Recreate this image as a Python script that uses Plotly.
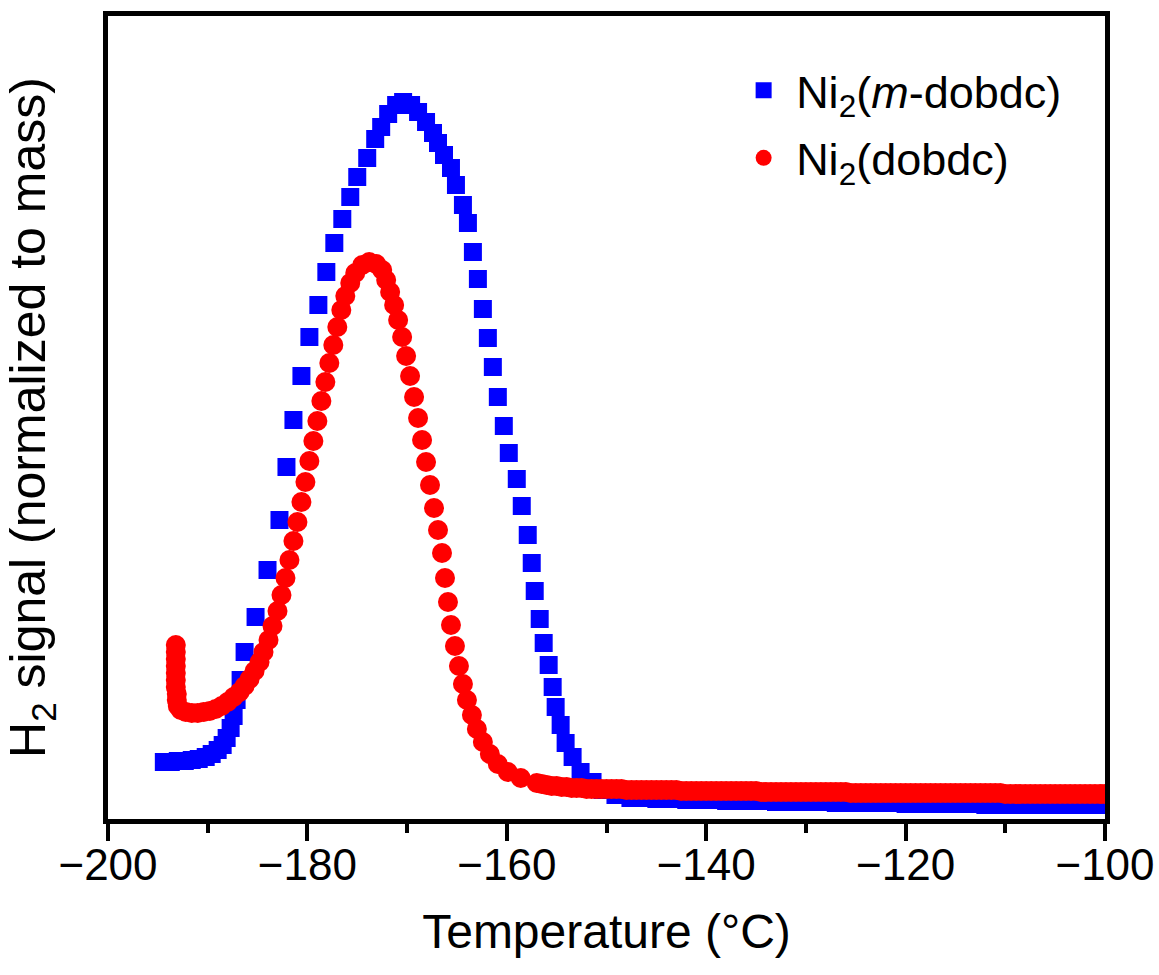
import plotly.graph_objects as go

# ---- Ni2(m-dobdc) (blue squares) ----
blue_T = [-194.4, -193.7, -193.0, -192.3, -191.6, -190.9, -190.2, -189.6, -189.0, -188.5,
          -188.1, -187.7, -187.4, -187.1, -186.7, -186.3, -185.2, -184.0, -182.8, -182.1,
          -181.4, -180.6, -179.8, -178.9, -178.1, -177.3, -176.5, -175.7, -175.0, -174.0,
          -173.2, -172.6, -171.9, -171.1, -170.4,
          -169.6, -168.9, -168.1, -167.4, -166.9, -166.3, -165.6, -165.1, -164.4, -163.9,
          -163.4, -162.9, -162.4, -161.9, -161.4, -160.9, -160.3, -159.8, -159.0, -158.5,
          -157.9, -157.5, -157.2, -156.7, -156.3, -155.8, -155.4, -155.1, -154.6, -154.1,
          -153.4, -152.6, -151.4, -150.4, -149.1, -147.6,
          -147, -146, -145, -144, -143, -142, -141, -140, -139, -138, -137, -136, -135, -134,
          -133, -132, -131, -130, -129, -128, -127, -126, -125, -124, -123, -122, -121, -120,
          -119, -118, -117, -116, -115, -114, -113, -112, -111, -110, -109, -108, -107, -106,
          -105, -104, -103, -102, -101, -100]
blue_S = [58, 58, 59, 59, 60, 61, 63, 66, 70, 75,
          82, 92, 104, 120, 140, 168, 203, 250, 300, 353,
          400, 444, 483, 515, 548, 577, 601, 623, 643, 662,
          681, 693, 706, 715, 718,
          715, 708, 698, 687, 677, 665, 652, 635, 615, 597,
          568, 541, 511, 482, 453, 423, 394, 367, 341, 314,
          285, 257, 229, 201, 177, 155, 133, 113, 95, 77,
          63, 48, 38, 30, 25, 22,
          22, 22, 21, 21, 21, 20, 20, 20, 20, 19, 19, 19, 19, 19,
          18, 18, 18, 18, 18, 18, 17, 17, 17, 17, 17, 17, 17, 16,
          16, 16, 16, 16, 16, 16, 16, 15, 15, 15, 15, 15, 15, 15,
          15, 15, 15, 15, 15, 15]

# ---- Ni2(dobdc) (red circles) ----
red_T = [-193.2, -193.2, -193.2, -193.2, -193.2, -193.2, -193.2, -193.1, -193.1, -193.0,
         -192.7, -192.2, -191.6, -191.0, -190.4, -189.8, -189.2, -188.6, -188.0, -187.4,
         -186.8, -186.3, -185.8, -185.3, -184.8, -184.4, -183.9, -183.5, -183.0, -182.6,
         -182.2, -181.8, -181.4, -181.0, -180.6, -180.2, -179.8, -179.4, -179.0, -178.6,
         -178.2, -177.8, -177.4, -177.0, -176.6, -176.2, -175.7, -175.2, -174.5, -173.8,
         -173.1, -172.5, -172.1, -171.7, -171.3, -170.9, -170.5, -170.1, -169.7, -169.3,
         -168.9, -168.5, -168.1, -167.7, -167.3, -166.9, -166.5, -166.2, -165.9, -165.6,
         -165.2, -164.8, -164.4, -164.0, -163.5, -163.0, -162.4, -161.7, -160.9, -159.9,
         -158.6,
         -157.0, -156.5, -156.0, -155.5, -155.0, -154.5, -154.0, -153.5, -153.0, -152.5,
         -152.0, -151.5, -151.0, -150.5, -150.0, -149.5, -149.0, -148.5, -148.0, -147.5,
         -147.0, -146.5, -146.0, -145.5, -145.0, -144.5, -144.0, -143.5, -143.0, -142.5,
         -142.0, -141.5, -141.0, -140.5, -140.0, -139.5, -139.0, -138.5, -138.0, -137.5,
         -137.0, -136.5, -136.0, -135.5, -135.0, -134.5, -134.0, -133.5, -133.0, -132.5,
         -132.0, -131.5, -131.0, -130.5, -130.0, -129.5, -129.0, -128.5, -128.0, -127.5,
         -127.0, -126.5, -126.0, -125.5, -125.0, -124.5, -124.0, -123.5, -123.0, -122.5,
         -122.0, -121.5, -121.0, -120.5, -120.0, -119.5, -119.0, -118.5, -118.0, -117.5,
         -117.0, -116.5, -116.0, -115.5, -115.0, -114.5, -114.0, -113.5, -113.0, -112.5,
         -112.0, -111.5, -111.0, -110.5, -110.0, -109.5, -109.0, -108.5, -108.0, -107.5,
         -107.0, -106.5, -106.0, -105.5, -105.0, -104.5, -104.0, -103.5, -103.0, -102.5,
         -102.0, -101.5, -101.0, -100.5, -100.0]
red_S = [175, 168, 161, 154, 147, 140, 133, 126, 120, 114,
         110, 108, 107, 107, 108, 109, 111, 114, 118, 123,
         128, 134, 141, 149, 158, 168, 180, 194, 209, 225,
         242, 260, 279, 298, 318, 338, 359, 379, 399, 419,
         438, 457, 475, 493, 510, 524, 537, 547, 555, 558,
         556, 550, 540, 528, 515, 500, 483, 464, 444, 423,
         402, 380, 358, 335, 312, 290, 267, 242, 218, 195,
         174, 154, 136, 120, 105, 91, 78, 66, 56, 48,
         42,
         37, 36, 35, 34, 34, 33, 33, 32, 32, 32,
         31, 31, 31, 31, 31, 31, 31, 31, 30, 30,
         30, 30, 30, 30, 30, 30, 30, 30, 30, 29,
         29, 29, 29, 29, 29, 29, 29, 29, 29, 29,
         29, 29, 29, 29, 29, 28, 28, 28, 28, 28,
         28, 28, 28, 28, 28, 28, 28, 28, 28, 28,
         28, 28, 28, 27, 27, 27, 27, 27, 27, 27,
         27, 27, 27, 27, 27, 27, 27, 27, 27, 27,
         27, 27, 27, 27, 27, 27, 27, 27, 27, 27,
         27, 27, 27, 27, 26, 26, 26, 26, 26, 26,
         26, 26, 26, 26, 26, 26, 26, 26, 26, 26,
         26, 26, 26, 26, 26]

x_ticks = [-200, -180, -160, -140, -120, -100]

FONT = "Arial, Liberation Sans, sans-serif"

fig = go.Figure()
fig.add_trace(go.Scatter(
    x=blue_T, y=blue_S, mode="markers", name="Ni<sub>2</sub>(<i>m</i>-dobdc)",
    marker=dict(symbol="square", size=18, color="#0000FF", line=dict(width=0)),
    legendgroup="a",
))
fig.add_trace(go.Scatter(
    x=red_T, y=red_S, mode="markers", name="Ni<sub>2</sub>(dobdc)",
    marker=dict(symbol="circle", size=20, color="#FF0000", line=dict(width=0)),
    legendgroup="b",
))

fig.update_layout(
    width=1159, height=975,
    margin=dict(l=108, r=54, t=16, b=156, autoexpand=False),
    plot_bgcolor="white", paper_bgcolor="white",
    font=dict(family=FONT, color="black"),
    legend=dict(x=0.625, y=0.952, xanchor="left", yanchor="top",
                font=dict(size=45, family=FONT), bgcolor="rgba(0,0,0,0)",
                traceorder="grouped", tracegroupgap=6, itemwidth=55),
)
fig.update_xaxes(
    range=[-200, -100], tickvals=x_ticks, ticks="outside", ticklen=17, tickwidth=4,
    tickcolor="black", showline=True, linewidth=5, linecolor="black", mirror=True,
    showgrid=False, zeroline=False, tickfont=dict(size=44, family=FONT), automargin=False,
    ticklabelstandoff=-14,
    minor=dict(dtick=10, tick0=-200, ticks="outside", ticklen=9, tickwidth=4, tickcolor="black"),
    title=dict(text="Temperature (°C)", font=dict(size=48, family=FONT), standoff=28),
)
fig.update_yaxes(
    range=[1, 804], showticklabels=False, ticks="", showline=True, linewidth=5,
    linecolor="black", mirror=True, showgrid=False, zeroline=False, automargin=False,
    title=dict(text="H<sub>2</sub> signal (normalized to mass)", font=dict(size=50, family=FONT), standoff=50),
)

fig.write_html(
    "out.html",
    config={"displayModeBar": False},
    post_script="document.body.style.margin='0';document.body.style.overflow='hidden';",
)
